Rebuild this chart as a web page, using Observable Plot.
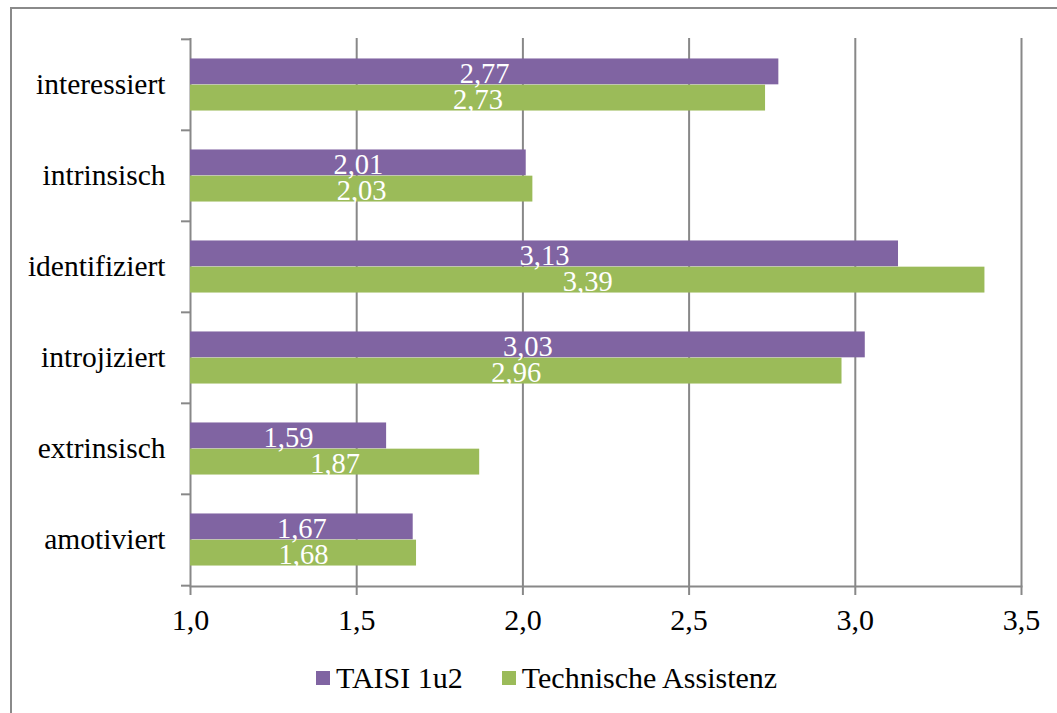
<!DOCTYPE html>
<html>
<head>
<meta charset="utf-8">
<script src="https://cdn.jsdelivr.net/npm/d3@7"></script>
<script src="https://cdn.jsdelivr.net/npm/@observablehq/plot@0.6"></script>
<style>
  body { margin: 0; background: #fff; }
  #wrap { position: relative; width: 1057px; height: 713px; overflow: hidden; }
  #frame { position: absolute; left: 10px; top: 7px; width: 1200px; height: 900px; border-left: 2px solid #8a8a8a; border-top: 2px solid #8a8a8a; }
  #chart { position: absolute; left: 0; top: 0; }
  #legend { position: absolute; top: 661px; left: 316px; display: flex; align-items: center; font-size: 30px; color: #000; line-height: 34px; }
  .sw { display: inline-block; width: 14px; height: 14px; margin-right: 6px; }
  .item { display: flex; align-items: center; margin-right: 39px; }
</style>
</head>
<body>
<div id="wrap" style="font-family:'Liberation Serif'">
  <div id="frame"></div>
  <div id="chart"></div>
  <div id="legend" style="font-family:'Liberation Serif'">
    <div class="item"><span class="sw" style="background:#8064a2"></span><span id="l0"></span></div>
    <div class="item"><span class="sw" style="background:#9bbb59"></span><span id="l1"></span></div>
  </div>
</div>
<script>
const categories = ["interessiert", "intrinsisch", "identifiziert", "introjiziert", "extrinsisch", "amotiviert"];
const series = ["TAISI 1u2", "Technische Assistenz"];
const taisi = [2.77, 2.01, 3.13, 3.03, 1.59, 1.67];
const technik = [2.73, 2.03, 3.39, 2.96, 1.87, 1.68];
const xTicks = [1.0, 1.5, 2.0, 2.5, 3.0, 3.5];
const colors = ["#8064a2", "#9bbb59"];

const dataA = categories.map((c, i) => ({cat: c, v: taisi[i], s: series[0]}));
const dataB = categories.map((c, i) => ({cat: c, v: technik[i], s: series[1]}));

const H = 640, mTop = 38, mBottom = 54;
const step = (H - mTop - mBottom) / categories.length;
const half = step / 2;
const barH = 26.2;
const fmt1 = d => d.toFixed(1).replace(".", ",");
const fmt2 = d => d.toFixed(2).replace(".", ",");
const gray = "#888888";
const serif = "Liberation Serif";

function draw() {
  const plot = Plot.plot({
    width: 1057,
    height: H,
    marginLeft: 190,
    marginRight: 36,
    marginTop: mTop,
    marginBottom: mBottom,
    style: {fontFamily: serif, fontSize: "28px", color: "#000", background: "transparent"},
    x: {domain: [1, 3.5], ticks: xTicks, label: null},
    y: {domain: categories, padding: 0, label: null},
    marks: [
      Plot.gridX(xTicks, {stroke: gray, strokeOpacity: 1, strokeWidth: 2}),
      Plot.barX(dataA, {x1: 1, x2: "v", y: "cat", fill: colors[0], insetTop: half - barH, insetBottom: half}),
      Plot.barX(dataB, {x1: 1, x2: "v", y: "cat", fill: colors[1], insetTop: half, insetBottom: half - barH}),
      Plot.axisX(xTicks, {tickFormat: fmt1, tickSize: 9, tickPadding: 13, stroke: gray, strokeWidth: 2, fontSize: 30, fill: "#000", label: null}),
      Plot.axisY({tickSize: 0, tickPadding: 25, fontSize: 29.5, fill: "#000", label: null}),
      Plot.axisY({tickSize: 9, text: null, dy: -half, stroke: gray, strokeWidth: 2, label: null}),
      Plot.axisY({ticks: [categories[categories.length - 1]], tickSize: 9, text: null, dy: half, stroke: gray, strokeWidth: 2, label: null}),
      Plot.frame({anchor: "bottom", stroke: gray, strokeWidth: 2}),
      Plot.text(dataA, {x: d => (1 + d.v) / 2, y: "cat", text: d => fmt2(d.v), fill: "#fff", dy: -barH / 2 + 1.5, fontSize: 28.5}),
      Plot.text(dataB, {x: d => (1 + d.v) / 2, y: "cat", text: d => fmt2(d.v), fill: "#fff", dy: barH / 2 + 1.5, fontSize: 28.5})
    ]
  });
  plot.style.fontFamily = serif;
  document.getElementById("chart").appendChild(plot);
  series.forEach((s, i) => { document.getElementById("l" + i).textContent = s; });
}
draw();
</script>
</body>
</html>
